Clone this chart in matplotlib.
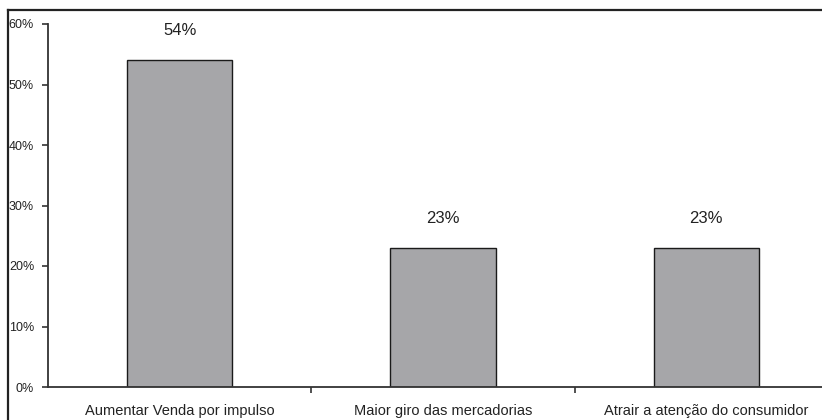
import matplotlib.pyplot as plt
from matplotlib.lines import Line2D

categories = ["Aumentar Venda por impulso", "Maior giro das mercadorias",
              "Atrair a atenção do consumidor"]
values = [54, 23, 23]
y_ticks = [0, 10, 20, 30, 40, 50, 60]

plt.rcParams['font.family'] = ['Liberation Sans', 'DejaVu Sans']

fig = plt.figure(figsize=(8.22, 4.2), dpi=100)
ax = fig.add_axes([48 / 822, 33 / 420, 790 / 822, 363 / 420])

x = list(range(len(categories)))
ax.bar(x, values, width=0.40, color="#a6a6a9", edgecolor="#1a1a1a", linewidth=1.0)

for xi, v in zip(x, values):
    ax.annotate(f"{v}%", (xi, v), xytext=(0, 16), textcoords="offset points",
                ha="center", va="bottom", fontsize=12, color="#222222")

ax.set_xlim(-0.5, 2.5)
ax.set_ylim(0, 60)

# y axis: percent ticks pointing outward
ax.set_yticks(y_ticks)
ax.set_yticklabels([f"{t}%" for t in y_ticks], fontsize=9, color="#222222")
ax.tick_params(axis="y", direction="out", length=4, width=1.2, color="#333333", pad=6)

# x axis: tick marks between groups, labels centred under bars
ax.set_xticks([0.5, 1.5])
ax.set_xticklabels([])
ax.set_xticks(x, minor=True)
ax.set_xticklabels(categories, minor=True, fontsize=10.5, color="#222222")
ax.tick_params(axis="x", which="major", direction="out", length=4, width=1.2, color="#333333")
ax.tick_params(axis="x", which="minor", length=0, pad=12)

for side in ("top", "right"):
    ax.spines[side].set_visible(False)
for side in ("left", "bottom"):
    ax.spines[side].set_color("#333333")
    ax.spines[side].set_linewidth(1.3)

# outer chart frame
fig.add_artist(Line2D([8 / 822, 1.0], [1 - 10 / 420, 1 - 10 / 420],
                      transform=fig.transFigure, color="#222222", linewidth=1.6))
fig.add_artist(Line2D([8 / 822, 8 / 822], [0.0, 1 - 10 / 420],
                      transform=fig.transFigure, color="#222222", linewidth=1.6))

fig.savefig("out.png", dpi=100)
